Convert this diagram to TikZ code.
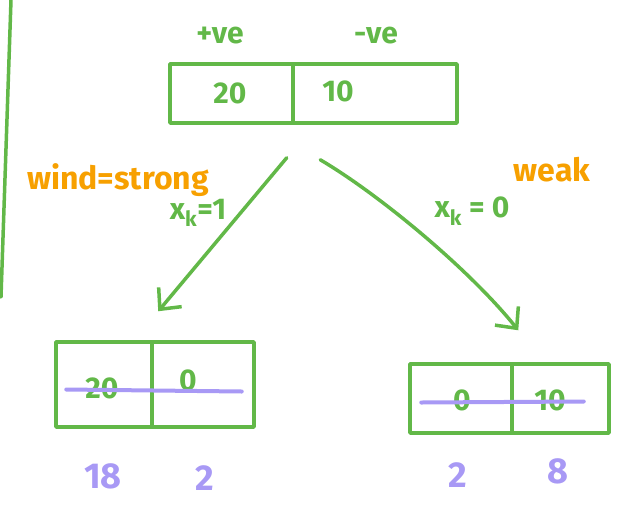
\documentclass[tikz,border=0pt]{standalone}
\usepackage{fontspec}
\setmainfont{Fira Sans}
\usetikzlibrary{arrows.meta}
\definecolor{pen}{RGB}{98,184,72}
\definecolor{hl}{RGB}{247,160,0}
\definecolor{lav}{RGB}{168,153,245}
\begin{document}
\begin{tikzpicture}[x=1pt,y=-1pt,line cap=round,line join=round,
  cellbox/.style={draw=pen,line width=3.5pt,inner sep=0pt,minimum height=#1},
  val/.style={text=pen,font=\fontsize{30}{32}\selectfont\bfseries,inner sep=0pt},
  cnt/.style={text=lav,font=\fontsize{36}{38}\selectfont\bfseries,inner sep=0pt},
  note/.style={text=hl,font=\fontsize{32}{34}\selectfont\bfseries,inner sep=0pt},
  cond/.style={text=pen,font=\fontsize{30}{32}\selectfont\bfseries,inner sep=0pt},
  strike/.style={draw=lav,line width=4pt},
  branch/.style={draw=pen,line width=3.5pt,-{Straight Barb[length=16pt,width=30pt,line width=3.5pt]}}]
\useasboundingbox (0,0) rectangle (637,504);
% left margin line
\coordinate (m1) at (11,0);
\coordinate (m2) at (1,297);
\draw[pen,line width=3.5pt] (m1) -- (m2);
% top box
\node[cellbox=59pt,minimum width=123pt] (topL) at (231.5,93.5) {};
\node[cellbox=59pt,minimum width=164pt] (topR) at (375,93.5) {};
\node[val] (t1) at (230,93) {20};
\node[val] (t2) at (338,91) {10};
\node[cond] (pos) at (220,36) {+ve};
\node[cond] (neg) at (376,36) {-ve};
% bottom left box
\node[cellbox=85pt,minimum width=96pt] (blL) at (104,384.5) {};
\node[cellbox=85pt,minimum width=102pt] (blR) at (203,384.5) {};
\node[val] (l1) at (102,388) {20};
\node[val] (l2) at (188,380) {0};
\draw[strike] ([shift={(12,5)}]blL.west) -- ([shift={(-14,7)}]blR.east);
\node[cnt] (c1) at (103,476) {18};
\node[cnt] (c2) at (205,478) {2};
% bottom right box
\node[cellbox=69pt,minimum width=102pt] (brL) at (461,398.5) {};
\node[cellbox=69pt,minimum width=97pt] (brR) at (560.5,398.5) {};
\node[val] (r1) at (462,400) {0};
\node[val] (r2) at (550,400) {10};
\draw[strike] ([shift={(13,4)}]brL.west) -- ([shift={(-27,3)}]brR.east);
\node[cnt] (c3) at (458,475) {2};
\node[cnt] (c4) at (558,471) {8};
% branches
\coordinate (sL) at ([shift={(-8,33)}]topL.south east);
\coordinate (eL) at ([shift={(8,-29)}]blR.north west);
\draw[branch] (sL) -- (eL);
\coordinate (sR) at ([shift={(29,35)}]topR.south west);
\coordinate (eR) at ([shift={(8,-32)}]brR.north west);
\draw[branch] (sR) .. controls (380,195) and (470,270) .. (eR);
% branch labels
\node[note] (strong) at (118,180) {wind=strong};
\node[cond] (xk1) at (198,213) {x\textsubscript{k}=1};
\node[note] (weak) at (552,170) {weak};
\node[cond] (xk0) at (472,211) {x\textsubscript{k} = 0};
\end{tikzpicture}
\end{document}
